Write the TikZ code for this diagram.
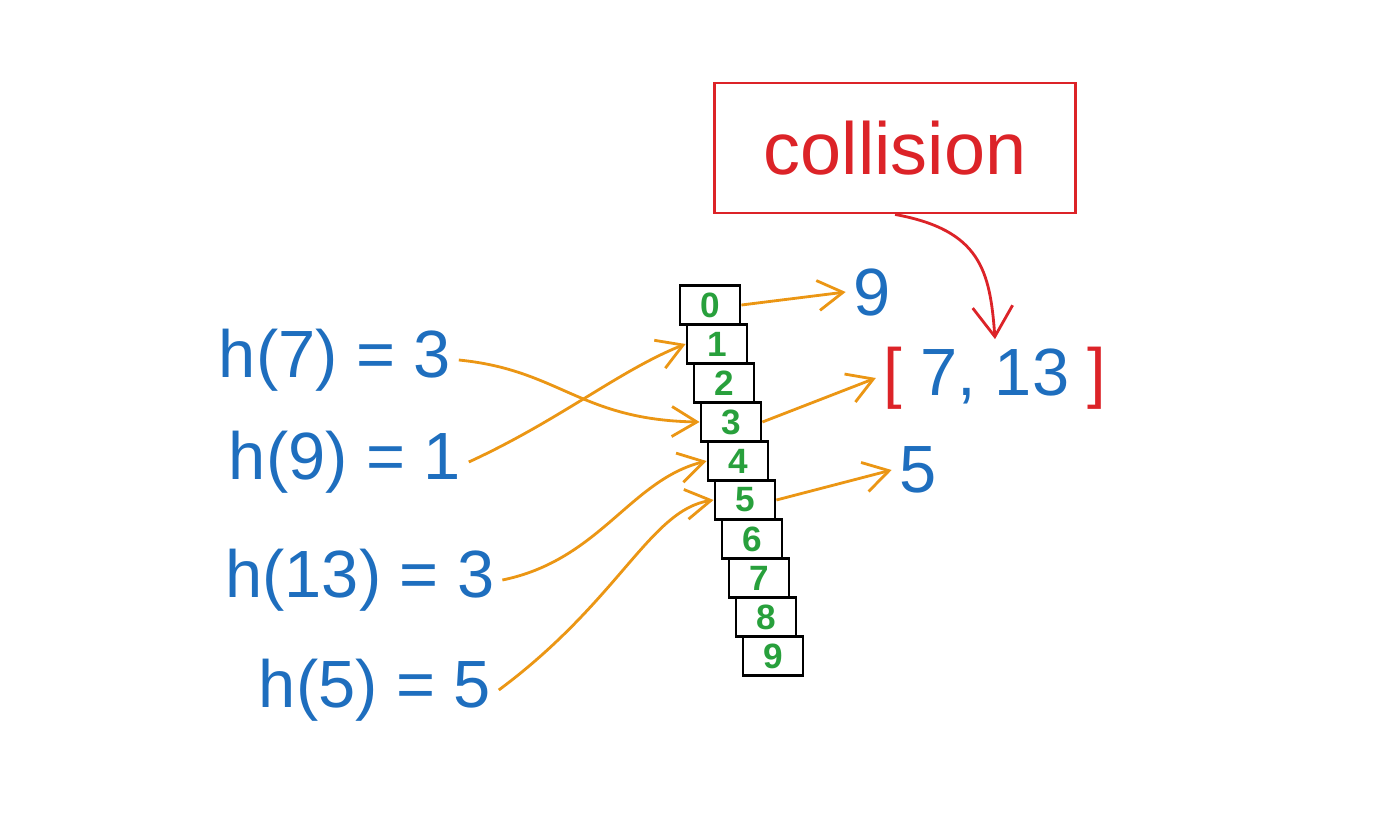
\documentclass[tikz,border=0pt]{standalone}
\usepackage{fontspec}
\setmainfont{Liberation Sans}
\usetikzlibrary{positioning,arrows.meta}
\definecolor{hblue}{RGB}{30,110,190}
\definecolor{hgreen}{RGB}{40,160,60}
\definecolor{horange}{RGB}{235,150,20}
\definecolor{hred}{RGB}{220,35,40}
\tikzset{
  hlabel/.style={text=hblue, font=\fontsize{19}{22}\selectfont, inner sep=2pt},
  cell/.style={draw, thick, minimum width=0.6cm, minimum height=0.39cm, inner sep=0pt, text=hgreen, font=\fontsize{10}{11}\selectfont\bfseries},
  harrow/.style={->, >={Straight Barb[length=2.5mm,width=3mm]}, horange, thick},
}
\begin{document}
\begin{tikzpicture}[x=0.01cm, y=-0.01cm]
      \useasboundingbox (0,0) rectangle (1400,815);
      \node[hlabel] (h7) at (335,360) {h(7) = 3};
      \node[hlabel] (h9) at (345,462) {h(9) = 1};
      \node[hlabel] (h13) at (360,580) {h(13) = 3};
      \node[hlabel] (h5) at (375,690) {h(5) = 5};

      \foreach \i in {0,...,9}
        \node[cell] (c\i) at ({710+7*\i}, {305+39*\i}) {\i};

      \node[hlabel] (o9) at (872,292) {9};
      \node[hlabel] (olist) at (995,378) {\textcolor{hred}{[} 7, 13 \textcolor{hred}{]}};
      \node[hlabel] (o5) at (918,470) {5};

      \node[draw=hred, thick, text=hred, font=\fontsize{21}{25}\selectfont, minimum width=3.6cm, minimum height=1.3cm] (col) at (895,148) {collision};

      \draw[harrow] (h7.east) .. controls (560,370) and (580,420) .. (c3.west);
      \draw[harrow] (h9.east) .. controls (560,420) and (620,370) .. (c1.west);
      \draw[harrow] (h13.east) .. controls (600,560) and (630,480) .. (c4.west);
      \draw[harrow] (h5.east) .. controls (620,600) and (650,510) .. (c5.west);
      \draw[harrow] (c0.east) -- (o9.west);
      \draw[harrow] (c3.east) -- (olist.west);
      \draw[harrow] (c5.east) -- (o5.west);
      \draw[->, >={Straight Barb[length=3mm,width=4mm]}, hred, thick] (col.south) .. controls (980,230) and (990,270) .. (olist.north);
\end{tikzpicture}
\end{document}
